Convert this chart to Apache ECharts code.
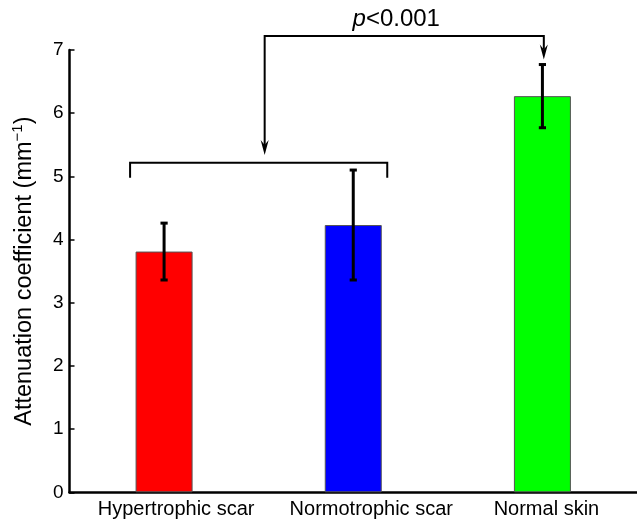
<!DOCTYPE html>
<html>
<head>
<meta charset="utf-8">
<script src="https://cdn.jsdelivr.net/npm/echarts@6/dist/echarts.min.js"></script>
<style>
  html, body { margin: 0; padding: 0; background: #fff; }
  #chart { width: 637px; height: 522px; }
</style>
</head>
<body>
<div id="chart"></div>
<script>
// data
const categories = ['Hypertrophic scar', 'Normotrophic scar', 'Normal skin'];
const meanValues = [3.81, 4.23, 6.27];
const errLow = [3.36, 3.36, 5.77];
const errHigh = [4.26, 5.10, 6.77];
const barColors = ['#ff0000', '#0000ff', '#00ff00'];
const yTicks = [0, 1, 2, 3, 4, 5, 6, 7];

// significance annotation (in data units)
const pValueLabel = 'p<0.001';
const groupBracketY = 5.215;
const groupBracketEndY = 4.98;
const sigLineY = 7.22;
const leftArrowTipY = 5.34;
const rightArrowTipY = 6.85;

const FONT = '"Liberation Sans", Arial, sans-serif';
// the original labels sit a little right of the bar centres
const labelShift = [24, 36, 8];

const chart = echarts.init(document.getElementById('chart'), null, { renderer: 'canvas' });

const labelRich = {};
labelShift.forEach((s, i) => {
  labelRich['c' + i] = { fontSize: 20, fontFamily: FONT, color: '#000', padding: [0, 0, 0, s] };
});

const option = {
  animation: false,
  backgroundColor: '#ffffff',
  grid: { left: 69.5, right: -5, top: 50, bottom: 29.7 },
  xAxis: {
    type: 'category',
    data: categories,
    axisLine: { lineStyle: { color: '#000', width: 2.5 } },
    axisTick: { show: false },
    axisLabel: {
      color: '#000',
      fontSize: 20,
      fontFamily: FONT,
      margin: 7,
      interval: 0,
      formatter: (v, i) => '{c' + i + '|' + v + '}',
      rich: labelRich
    }
  },
  yAxis: {
    type: 'value',
    min: yTicks[0],
    max: yTicks[yTicks.length - 1],
    interval: 1,
    name: '{t|Attenuation coefficient (mm}{s|−1}{t|)}',
    nameLocation: 'middle',
    nameGap: 31,
    nameRotate: 90,
    nameTextStyle: {
      fontFamily: FONT,
      color: '#000',
      rich: {
        t: { fontSize: 23.5, fontFamily: FONT, color: '#000', lineHeight: 28 },
        s: { fontSize: 15, fontFamily: FONT, color: '#000', verticalAlign: 'top', lineHeight: 28 }
      }
    },
    axisLine: { show: true, lineStyle: { color: '#000', width: 2.5 } },
    axisTick: { show: true, inside: true, length: 5, lineStyle: { color: '#000', width: 1.5 } },
    axisLabel: { color: '#000', fontSize: 19, fontFamily: FONT, margin: 6 },
    splitLine: { show: false }
  },
  series: [
    {
      type: 'bar',
      barWidth: 57,
      data: meanValues.map((v, i) => ({
        value: v,
        itemStyle: { color: barColors[i], borderColor: '#555', borderWidth: 1 }
      })),
      z: 2
    },
    {
      type: 'custom',
      z: 3,
      data: categories.map((c, i) => [i, errLow[i], errHigh[i]]),
      encode: { x: 0, y: [1, 2] },
      renderItem: function (params, api) {
        const lo = api.coord([api.value(0), api.value(1)]);
        const hi = api.coord([api.value(0), api.value(2)]);
        const cap = 3.6;
        const style = { stroke: '#000', lineWidth: 3 };
        return {
          type: 'group',
          children: [
            { type: 'line', shape: { x1: lo[0], y1: lo[1], x2: hi[0], y2: hi[1] }, style: style },
            { type: 'line', shape: { x1: hi[0] - cap, y1: hi[1], x2: hi[0] + cap, y2: hi[1] }, style: style },
            { type: 'line', shape: { x1: lo[0] - cap, y1: lo[1], x2: lo[0] + cap, y2: lo[1] }, style: style }
          ]
        };
      }
    }
  ]
};

chart.setOption(option);

// brackets and arrows, placed from the axes
function pt(i, y) {
  return chart.convertToPixel({ gridIndex: 0 }, [categories[i], y]);
}
function arrowHead(x, tipY) {
  return {
    type: 'polygon',
    shape: { points: [[x, tipY], [x - 4, tipY - 15], [x, tipY - 10], [x + 4, tipY - 15]] },
    style: { fill: '#000' },
    z: 10
  };
}

const a = pt(0, groupBracketY);
const b = pt(1, groupBracketY);
const aEnd = pt(0, groupBracketEndY);
const g = pt(2, sigLineY);
const gTip = pt(2, rightArrowTipY);
const lTip = pt(0, leftArrowTipY);
const leftX = (a[0] + b[0]) / 2 + 6;
const gx = g[0] + 1.4;
const lineStyle = { stroke: '#000', lineWidth: 2, fill: null };

chart.setOption({
  graphic: [
    {
      type: 'polyline',
      shape: { points: [[a[0] - 34, aEnd[1]], [a[0] - 34, a[1]], [b[0] + 34, b[1]], [b[0] + 34, aEnd[1]]] },
      style: lineStyle,
      z: 10
    },
    {
      type: 'polyline',
      shape: { points: [[leftX, lTip[1] - 10], [leftX, g[1]], [gx, g[1]], [gx, gTip[1] - 10]] },
      style: lineStyle,
      z: 10
    },
    arrowHead(leftX, lTip[1]),
    arrowHead(gx, gTip[1]),
    {
      type: 'text',
      x: (leftX + gx) / 2 - 8,
      y: g[1] - 5,
      style: {
        text: '{i|' + pValueLabel.slice(0, 1) + '}{r|' + pValueLabel.slice(1) + '}',
        align: 'center',
        verticalAlign: 'bottom',
        rich: {
          i: { fontSize: 24, fontFamily: FONT, fontStyle: 'italic', fill: '#000' },
          r: { fontSize: 24, fontFamily: FONT, fill: '#000' }
        }
      },
      z: 10
    }
  ]
});
</script>
</body>
</html>
